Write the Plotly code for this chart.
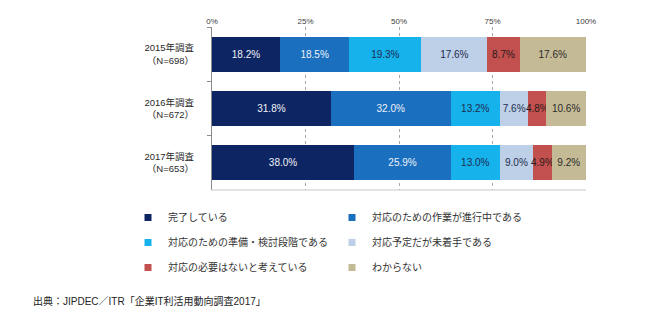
import plotly.graph_objects as go

categories = ["2015年調査<br>（N=698）", "2016年調査<br>（N=672）", "2017年調査<br>（N=653）"]
series_names = [
    "完了している",
    "対応のための作業が進行中である",
    "対応のための準備・検討段階である",
    "対応予定だが未着手である",
    "対応の必要はないと考えている",
    "わからない",
]
s_done = [18.2, 31.8, 38.0]
s_progress = [18.5, 32.0, 25.9]
s_prepare = [19.3, 13.2, 13.0]
s_planned = [17.6, 7.6, 9.0]
s_notneeded = [8.7, 4.8, 4.9]
s_unknown = [17.6, 10.6, 9.2]
series_values = [s_done, s_progress, s_prepare, s_planned, s_notneeded, s_unknown]

colors = ["#0e2563", "#1b6fbf", "#16b2ec", "#bdd0e7", "#c2504e", "#c5ba96"]
text_colors = ["#eef2f8", "#eef2f8", "#1d2c4f", "#1d2c4f", "#2a1a1a", "#2a2a2a"]
x_ticks = [0, 25, 50, 75, 100]
x_tick_labels = ["0%", "25%", "50%", "75%", "100%"]

FONT = "Liberation Sans, Arial, Noto Sans CJK JP, sans-serif"

W, H = 650, 327
L, R, T, B = 212, 64, 27, 137
PW, PH = W - L - R, H - T - B

fig = go.Figure()
for name, vals, col, tcol in zip(series_names, series_values, colors, text_colors):
    fig.add_trace(go.Bar(
        y=categories, x=vals, orientation="h", name=name,
        marker=dict(color=col, line=dict(width=0)),
        text=[f"{v:.1f}%" for v in vals], textposition="inside",
        insidetextanchor="middle", textangle=0,
        textfont=dict(color=tcol, size=10, family=FONT),
        showlegend=False, hoverinfo="skip",
    ))

# legend entries (two columns), on a helper axis pair that only carries
# the category-boundary tick marks (points lie outside the helper x range)
for i, (name, col) in enumerate(zip(series_names, colors)):
    fig.add_trace(go.Scatter(
        x=[-1] * len(categories), y=categories, mode="markers", name=name,
        xaxis="x2", yaxis="y2",
        marker=dict(symbol="square", size=7, color=col),
        legend="legend" if i % 2 == 0 else "legend2",
        legendgroup=f"g{i}", showlegend=True, hoverinfo="skip",
    ))

legend_common = dict(
    xref="container", yref="container", yanchor="top", xanchor="left",
    font=dict(size=10, family=FONT, color="#333333"),
    bgcolor="rgba(0,0,0,0)", tracegroupgap=6, itemclick=False,
)

fig.update_layout(
    width=W, height=H,
    margin=dict(l=L, r=R, t=T, b=B, autoexpand=False),
    paper_bgcolor="white", plot_bgcolor="white",
    barmode="stack", bargap=0.358,
    uniformtext=dict(minsize=10, mode="show"),
    font=dict(family=FONT, color="#333333"),
    xaxis=dict(
        side="top", range=[0, 100], tickvals=x_ticks, ticktext=x_tick_labels,
        tickfont=dict(size=8, color="#404040"),
        showgrid=True, gridcolor="#a8a8a8", griddash="3px,3px", gridwidth=1,
        zeroline=False, showline=False, ticks="", fixedrange=True, automargin=False,
    ),
    yaxis=dict(
        categoryorder="array", categoryarray=categories, range=[2.5, -0.5],
        tickfont=dict(size=9.5, color="#2a2a2a"),
        showline=True, linecolor="#8c8c8c", linewidth=1,
        ticks="outside", ticklen=4, tickcolor="rgba(0,0,0,0)",
        ticklabelstandoff=11,
        showgrid=False, fixedrange=True, automargin=False,
    ),
    xaxis2=dict(domain=[0, 1], range=[0, 1], visible=False, anchor="y2",
                overlaying="x", fixedrange=True, automargin=False),
    yaxis2=dict(categoryorder="array", categoryarray=categories, range=[2.5, -0.5],
                overlaying="y", anchor="x2", side="left",
                showticklabels=False, showline=False, showgrid=False, zeroline=False,
                ticks="outside", ticklen=4, tickcolor="#8c8c8c", tickson="boundaries",
                fixedrange=True, automargin=False),
    legend=dict(x=128 / W, y=1 - 203 / H, **legend_common),
    legend2=dict(x=332 / W, y=1 - 203 / H, **legend_common),
    shapes=[dict(type="line", xref="paper", yref="paper", x0=0, x1=1, y0=0, y1=0,
                 line=dict(color="#c8c8c8", width=1))],
    annotations=[dict(
        text="出典：JIPDEC／ITR「企業IT利活用動向調査2017」",
        xref="paper", yref="paper", x=(31 - L) / PW, y=(H - B - 301) / PH,
        xanchor="left", yanchor="middle", showarrow=False,
        font=dict(size=10, family=FONT, color="#222222"),
    )],
)

fig.write_html("out.html")
